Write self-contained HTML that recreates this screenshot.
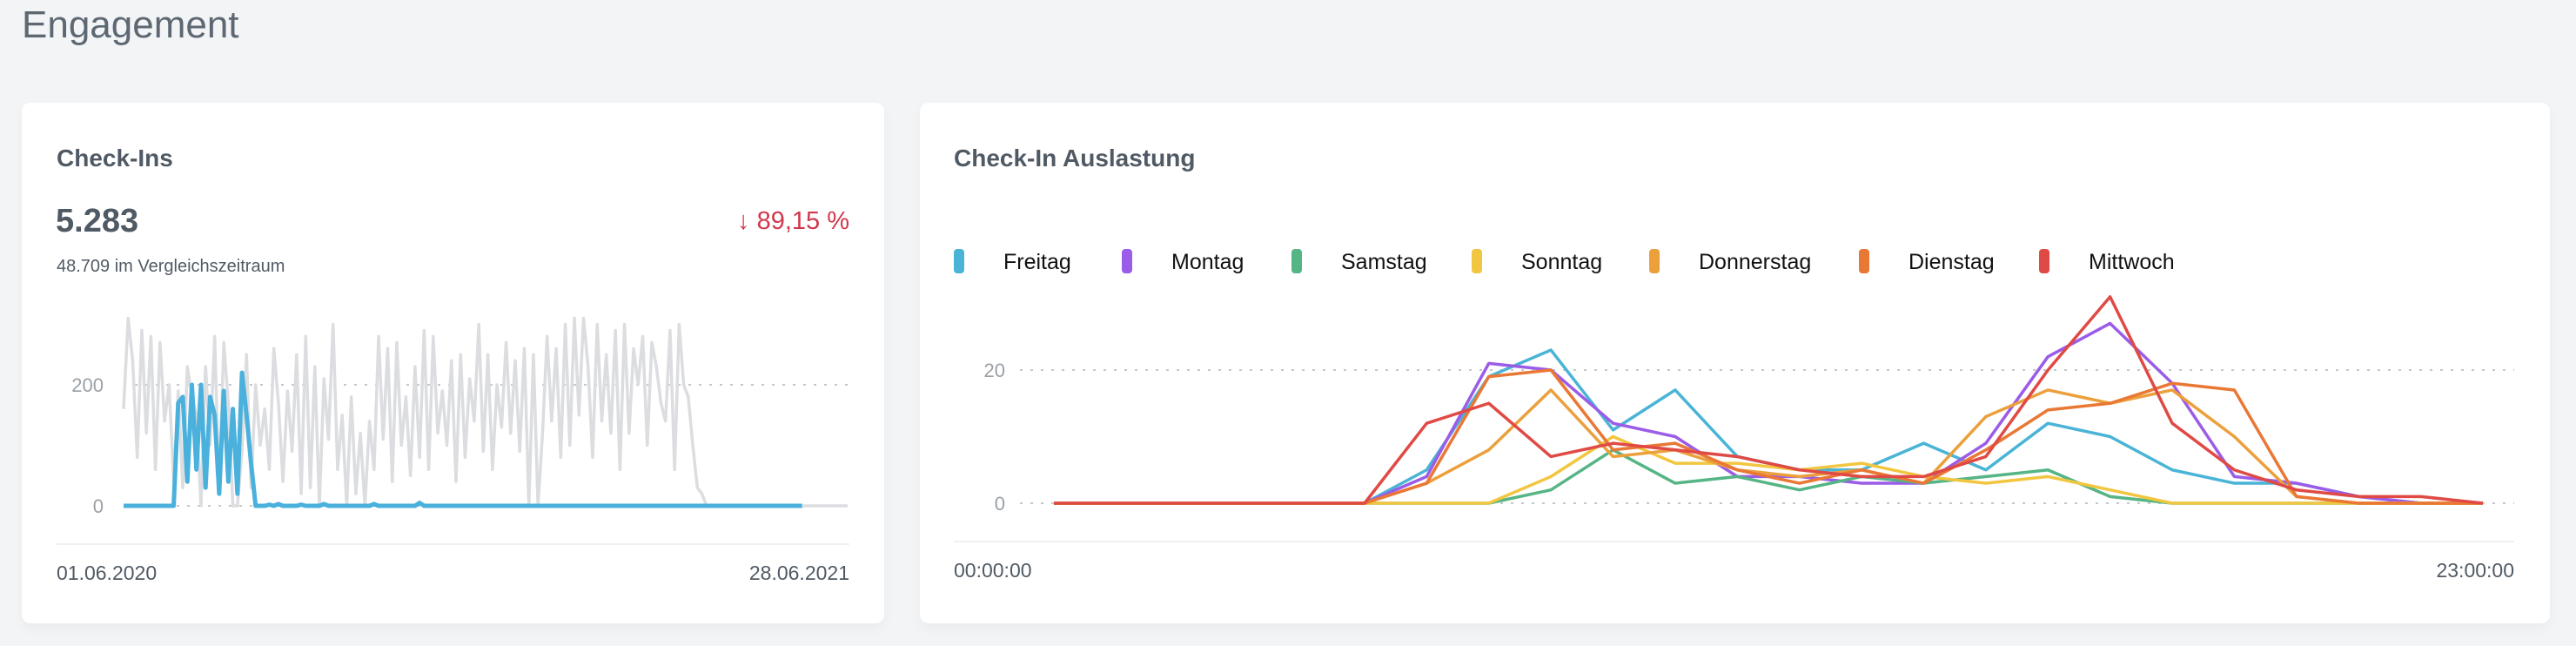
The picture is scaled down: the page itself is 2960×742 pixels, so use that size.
<!DOCTYPE html>
<html><head><meta charset="utf-8">
<style>
html,body{margin:0;padding:0;}
body{width:2960px;height:742px;background:#f3f4f6;font-family:"Liberation Sans",sans-serif;color:#505a64;position:relative;overflow:hidden;}
.h{position:absolute;left:25px;top:4px;font-size:44px;color:#5d6872;}
.card{position:absolute;background:#fff;border-radius:10px;box-shadow:0 6px 14px rgba(0,0,0,0.04);}
.t{position:absolute;white-space:nowrap;}
</style></head><body>
<div class="h">Engagement</div>
<div class="card" style="left:25px;top:118px;width:991px;height:598px"></div>
<div class="card" style="left:1057px;top:118px;width:1873px;height:598px"></div>

<div class="t" style="left:65px;top:166px;font-size:28px;font-weight:bold;">Check-Ins</div>
<div class="t" style="left:64px;top:233px;font-size:38px;font-weight:bold;">5.283</div>
<div class="t" style="right:1984px;top:238px;font-size:29px;color:#d0384c;">↓ 89,15 %</div>
<div class="t" style="left:65px;top:295px;font-size:20px;">48.709 im Vergleichszeitraum</div>
<div class="t" style="left:65px;top:645px;font-size:23px;">01.06.2020</div>
<div class="t" style="right:1984px;top:645px;font-size:23px;">28.06.2021</div>

<div class="t" style="left:1096px;top:166px;font-size:28px;font-weight:bold;">Check-In Auslastung</div>
<div class="t" style="left:1096px;top:642px;font-size:23px;">00:00:00</div>
<div class="t" style="right:71px;top:642px;font-size:23px;">23:00:00</div>

<svg id="svg" width="2960" height="742" style="position:absolute;left:0;top:0"></svg>
<script>
const gray=[160,310,240,80,290,120,280,60,270,140,200,40,190,30,230,180,150,0,230,100,
280,20,270,170,0,0,90,250,30,200,100,160,60,260,170,40,190,90,250,20,
280,30,230,0,210,110,300,60,150,0,180,20,120,0,140,60,280,110,260,40,
270,100,180,50,230,80,290,60,280,120,190,100,240,40,250,80,210,140,300,90,
250,60,200,130,270,120,240,90,260,0,250,0,120,280,140,260,80,300,100,310,
150,310,230,80,300,140,250,120,290,60,300,120,260,200,280,100,270,230,170,140,
290,60,300,200,180,100,30,20,0,0,0,0,0,0,0,0,0,0,0,0,
0,0,0,0,0,0,0,0,0,0,0,0,0,0,0,0,0,0,0,0];
const blue=[0,0,0,0,0,0,0,0,0,0,0,0,170,180,40,200,60,200,30,180,150,20,190,40,160,20,220,150,70,0,
0,0,2,0,3,0,0,0,0,2,0,0,0,0,3,0,0,0,0,0,0,0,0,0,0,3,0,0,0,0,0,0,0,0,0,5,0,0,0,0,
0,0,0,0,0,0,0,0,0,0,0,0,0,0,0,0,0,0,0,0,0,0,0,0,0,0,0,0,0,0,0,0,0,0,0,0,0,0,0,0,
0,0,0,0,0,0,0,0,0,0,0,0,0,0,0,0,0,0,0,0,0,0,0,0,0,0,0,0,0,0,0,0,0,0,0,0,0,0,0,0];
const leftTicks=[0,200];

const hours=[0,1,2,3,4,5,6,7,8,9,10,11,12,13,14,15,16,17,18,19,20,21,22,23];
const dayNames=["Freitag","Montag","Samstag","Sonntag","Donnerstag","Dienstag","Mittwoch"];
const dayColors=["#4ab4d6","#9b5ce8","#55b585","#f2c640","#eba03c","#ea7835","#e04a45"];
const freitag=[0,0,0,0,0,0,5,19,23,11,17,7,5,5,9,5,12,10,5,3,3,1,0,0];
const montag=[0,0,0,0,0,0,4,21,20,12,10,4,4,3,3,9,22,27,18,4,3,1,0,0];
const samstag=[0,0,0,0,0,0,0,0,2,8,3,4,2,4,3,4,5,1,0,0,0,0,0,0];
const sonntag=[0,0,0,0,0,0,0,0,4,10,6,6,5,6,4,3,4,2,0,0,0,0,0,0];
const donnerstag=[0,0,0,0,0,0,3,8,17,7,8,5,4,5,3,13,17,15,17,10,1,0,0,0];
const dienstag=[0,0,0,0,0,0,3,19,20,8,9,5,3,5,3,8,14,15,18,17,1,0,0,0];
const mittwoch=[0,0,0,0,0,0,12,15,7,9,8,7,5,4,4,7,20,31,12,5,2,1,1,0];
const series=[freitag,montag,samstag,sonntag,donnerstag,dienstag,mittwoch];
const rightTicks=[0,20];

const NS="http://www.w3.org/2000/svg";
const svg=document.getElementById('svg');
function mk(tag,attrs){const e=document.createElementNS(NS,tag);for(const k in attrs)e.setAttribute(k,attrs[k]);svg.appendChild(e);return e;}

// left chart
const lx=i=>142+i*(974-142)/(gray.length-1);
const ly=v=>581-v*(581-442)/200;
leftTicks.forEach(t=>{
  const l=mk('line',{x1:155,x2:976,y1:ly(t),y2:ly(t),stroke:'#c4c7cb','stroke-width':2,'stroke-dasharray':'3 9'});
  
  
  const tx=mk('text',{x:119,y:ly(t)+8,'text-anchor':'end','font-size':22,fill:'#9aa0a6','font-family':'Liberation Sans'});
  tx.textContent=t;
  
  
});
let gl=mk('polyline',{points:gray.map((v,i)=>lx(i)+','+ly(v)).join(' '),fill:'none',stroke:'#dcdde0','stroke-width':3.5,'stroke-linejoin':'round'});


let bl=mk('polyline',{points:blue.map((v,i)=>lx(i)+','+ly(v)).join(' '),fill:'none',stroke:'#4ab0dc','stroke-width':5,'stroke-linejoin':'round'});


let s1=mk('line',{x1:65,x2:976,y1:625,y2:625,stroke:'#eef0f2','stroke-width':2});



// right chart
const rx=h=>1211+h*(2853-1211)/23;
const ry=v=>578-v*(578-425)/20;
rightTicks.forEach(t=>{
  const l=mk('line',{x1:1172,x2:2889,y1:ry(t),y2:ry(t),stroke:'#c4c7cb','stroke-width':2,'stroke-dasharray':'3 9'});
  
  
  const tx=mk('text',{x:1155,y:ry(t)+8,'text-anchor':'end','font-size':22,fill:'#9aa0a6','font-family':'Liberation Sans'});
  tx.textContent=t;
  
  
});
const legX=[1096,1289,1484,1691,1895,2136,2343];
series.forEach((s,k)=>{
  const p=mk('polyline',{points:s.map((v,i)=>rx(hours[i])+','+ry(v)).join(' '),fill:'none',stroke:dayColors[k],'stroke-width':3.5,'stroke-linejoin':'round'});
  
  
  const m=mk('rect',{x:legX[k],y:286,width:12,height:28,rx:4,fill:dayColors[k]});
  
  
  const tx=mk('text',{x:legX[k]+57,y:309,'font-size':25,fill:'#111','font-family':'Liberation Sans'});
  tx.textContent=dayNames[k];
  
  
});
let s2=mk('line',{x1:1096,x2:2889,y1:622,y2:622,stroke:'#eef0f2','stroke-width':2});


</script>
</body></html>
